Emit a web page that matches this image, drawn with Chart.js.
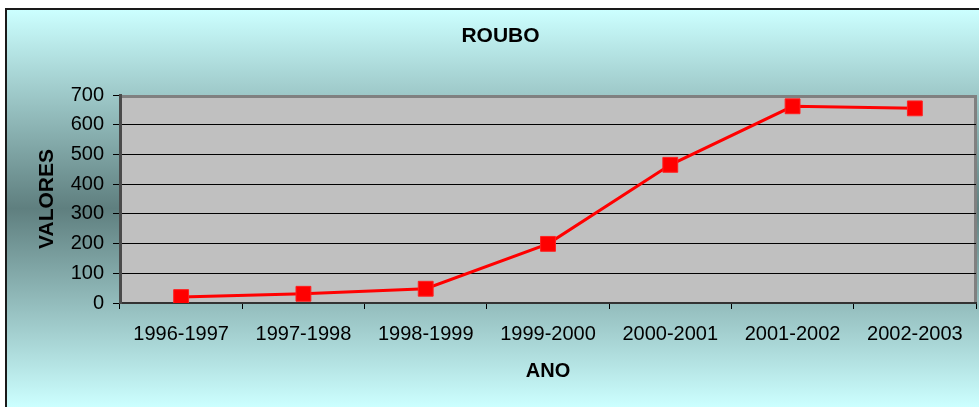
<!DOCTYPE html>
<html>
<head>
<meta charset="utf-8">
<script src="https://cdn.jsdelivr.net/npm/chart.js@4"></script>
<style>
  html, body { margin: 0; padding: 0; background: #ffffff; }
  #wrap { width: 979px; height: 407px; position: relative; }
</style>
</head>
<body>
<div id="wrap"><canvas id="c" width="979" height="407"></canvas></div>
<script>
const categories = ['1996-1997', '1997-1998', '1998-1999', '1999-2000', '2000-2001', '2001-2002', '2002-2003'];
const roubo = [20, 31, 48, 199, 465, 662, 655];
const yTicks = [0, 100, 200, 300, 400, 500, 600, 700];
const chartTitle = 'ROUBO';
const xTitle = 'ANO';
const yTitle = 'VALORES';

const bgPlugin = {
  id: 'bg',
  beforeDraw(chart) {
    const ctx = chart.ctx;
    const W = chart.width, H = chart.height;
    ctx.save();
    ctx.fillStyle = '#ffffff';
    ctx.fillRect(0, 0, W, H);
    const g = ctx.createLinearGradient(0, 10, 0, H);
    g.addColorStop(0, '#ccffff');
    g.addColorStop(0.5, '#5f7f7f');
    g.addColorStop(1, '#ccffff');
    ctx.fillStyle = g;
    ctx.fillRect(7, 10, W - 7, H - 10);
    ctx.fillStyle = '#1a1a1a';
    ctx.fillRect(5, 8, W - 5, 2);
    ctx.fillRect(5, 8, 2, H - 8);
    const a = chart.chartArea;
    ctx.fillStyle = '#c0c0c0';
    ctx.fillRect(a.left, a.top, a.right - a.left, a.bottom - a.top);
    ctx.fillStyle = '#808080';
    ctx.fillRect(a.left, a.top, a.right - a.left, 3);
    ctx.fillRect(a.right - 2, a.top, 3, a.bottom - a.top);
    ctx.restore();
  }
};

new Chart(document.getElementById('c'), {
  type: 'line',
  data: {
    labels: categories,
    datasets: [{
      data: roubo,
      borderColor: '#ff0000',
      backgroundColor: '#ff0000',
      borderWidth: 3,
      pointStyle: 'rect',
      pointRadius: 10.5,
      pointHoverRadius: 10.5,
      pointBackgroundColor: '#ff0000',
      pointBorderColor: '#ff2020',
      pointBorderWidth: 1,
      tension: 0
    }]
  },
  options: {
    responsive: false,
    animation: false,
    devicePixelRatio: 1,
    layout: { autoPadding: false, padding: { left: 25, right: 3, top: 0, bottom: 0 } },
    plugins: {
      legend: { display: false },
      tooltip: { enabled: false },
      title: {
        display: true,
        text: chartTitle,
        color: '#000000',
        font: { family: '"Liberation Sans", Arial, sans-serif', size: 21, weight: 'bold' },
        padding: { top: 23.4, bottom: 46.4 }
      }
    },
    scales: {
      x: {
        type: 'category',
        offset: true,
        afterFit(scale) { scale.height = 104; scale.paddingLeft = 0; scale.paddingRight = 0; },
        grid: { display: true, offset: true, drawOnChartArea: false, drawTicks: true, tickLength: 6, color: '#000000', lineWidth: 1 },
        border: { display: true, color: '#333333', width: 2 },
        ticks: {
          color: '#000000',
          padding: 13,
          maxRotation: 0,
          autoSkip: false,
          font: { family: '"Liberation Sans", Arial, sans-serif', size: 20 }
        },
        title: {
          display: true,
          text: xTitle,
          color: '#000000',
          font: { family: '"Liberation Sans", Arial, sans-serif', size: 20, weight: 'bold' },
          padding: { top: 0, bottom: 24 }
        }
      },
      y: {
        min: 0,
        max: 700,
        afterFit(scale) { scale.width = 95; scale.paddingTop = 0; scale.paddingBottom = 0; },
        afterBuildTicks(scale) { scale.ticks = yTicks.map(v => ({ value: v })); },
        grid: {
          drawTicks: true,
          tickLength: 7,
          tickColor: '#000000',
          color: (c) => (c.tick && c.tick.value === 700) ? 'rgba(0,0,0,0)' : '#000000',
          lineWidth: 1
        },
        border: { display: true, color: '#4a4a4a', width: 3 },
        ticks: {
          color: '#000000',
          padding: 9,
          font: { family: '"Liberation Sans", Arial, sans-serif', size: 20 }
        },
        title: {
          display: true,
          text: yTitle,
          color: '#000000',
          font: { family: '"Liberation Sans", Arial, sans-serif', size: 21, weight: 'bold' },
          padding: { top: 10, bottom: 0 }
        }
      }
    }
  },
  plugins: [bgPlugin]
});
</script>
</body>
</html>
